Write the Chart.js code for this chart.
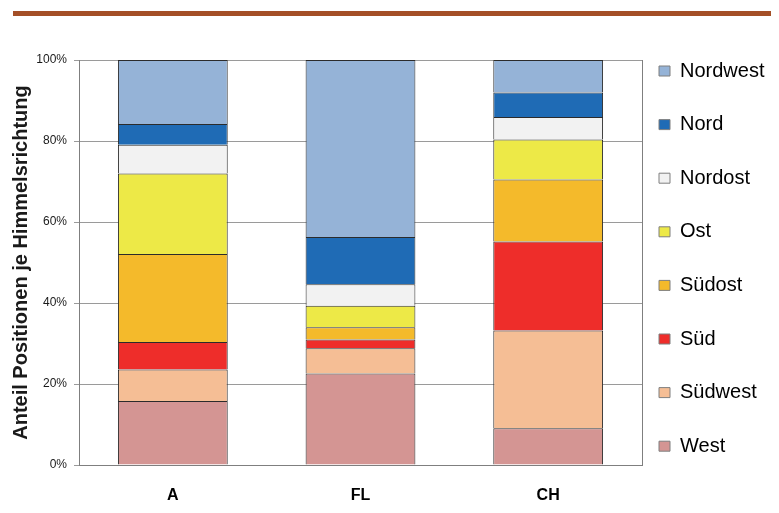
<!DOCTYPE html>
<html>
<head>
<meta charset="utf-8">
<title>Anteil Positionen je Himmelsrichtung</title>
<script src="https://cdn.jsdelivr.net/npm/chart.js@4"></script>
<style>
  body { margin: 0; background: #fff; }
  #wrap { position: relative; width: 779px; height: 513px; }
  #topline { position: absolute; left: 13px; top: 11px; width: 758px; height: 5px; background: #A44F27; }
  #chart { position: absolute; left: 0; top: 0; }
</style>
</head>
<body>
<div id="wrap">
  <canvas id="chart" width="779" height="513"></canvas>
  <div id="topline"></div>
</div>
<script>
// Länder
var categories = ['A', 'FL', 'CH'];

// Anteile in % (von unten nach oben gestapelt)
var west     = [15.8, 22.6,  9.1];
var suedwest = [ 7.8,  6.2, 24.1];
var sued     = [ 6.8,  2.2, 22.0];
var suedost  = [21.7,  3.0, 15.3];
var ost      = [19.9,  5.3,  9.9];
var nordost  = [ 7.1,  5.3,  5.5];
var nord     = [ 5.1, 11.7,  6.1];
var nordwest = [15.8, 43.7,  8.0];

var yTicks = [0, 20, 40, 60, 80, 100];

var font = "'Liberation Sans', Arial, sans-serif";

function series(label, data, color) {
    return {
        label: label,
        data: data,
        backgroundColor: color,
        borderColor: '#2b2b2b',
        borderWidth: 1,
        categoryPercentage: 1,
        barPercentage: 0.585
    };
}

var ctx = document.getElementById('chart');
var myChart = new Chart(ctx, {
    type: 'bar',
    data: {
        labels: categories,
        datasets: [
            series('West', west, '#D49593'),
            series('Südwest', suedwest, '#F5BE95'),
            series('Süd', sued, '#EE2D2A'),
            series('Südost', suedost, '#F4BA2B'),
            series('Ost', ost, '#EDE947'),
            series('Nordost', nordost, '#F2F2F2'),
            series('Nord', nord, '#1F6BB5'),
            series('Nordwest', nordwest, '#95B3D7')
        ]
    },
    options: {
        responsive: false,
        animation: false,
        devicePixelRatio: 1,
        layout: { padding: { top: 60, left: 0, right: 9, bottom: 10 } },
        plugins: {
            tooltip: { enabled: false },
            legend: {
                position: 'right',
                align: 'start',
                reverse: true,
                maxWidth: 112,
                labels: {
                    boxWidth: 11,
                    boxHeight: 10,
                    padding: 1,
                    color: '#000',
                    font: { family: font, size: 20, lineHeight: 2.63 },
                    generateLabels: function(chart) {
                        var items = Chart.defaults.plugins.legend.labels.generateLabels(chart);
                        items.forEach(function(it) {
                            it.text = [it.text];
                            it.strokeStyle = '#7f7f7f';
                            it.lineWidth = 1;
                        });
                        return items;
                    }
                }
            }
        },
        scales: {
            x: {
                stacked: true,
                grid: { display: false },
                border: { display: true, color: '#7f7f7f' },
                ticks: {
                    color: '#000',
                    padding: 13,
                    font: { family: font, size: 16, weight: 'bold' }
                },
                afterFit: function(scale) { scale.height = 38; }
            },
            y: {
                stacked: true,
                min: 0,
                max: 100,
                afterBuildTicks: function(scale) {
                    scale.ticks = yTicks.map(function(v) { return { value: v }; });
                },
                grid: { color: '#9a9a9a', tickLength: 5 },
                border: { display: true, color: '#7f7f7f' },
                ticks: {
                    color: '#1a1a1a',
                    padding: 7,
                    font: { family: font, size: 12 },
                    callback: function(v) { return v + '%'; }
                },
                title: {
                    display: true,
                    text: 'Anteil Positionen je Himmelsrichtung',
                    color: '#1a1a1a',
                    padding: { top: 9, bottom: 0 },
                    font: { family: font, size: 20, weight: 'bold' }
                },
                afterFit: function(scale) { scale.width = 79; }
            },
            y2: {
                position: 'right',
                grid: { drawOnChartArea: false, drawTicks: false },
                border: { display: true, color: '#7f7f7f' },
                ticks: { display: false },
                afterFit: function(scale) { scale.width = 16; }
            }
        }
    }
});
</script>
</body>
</html>
